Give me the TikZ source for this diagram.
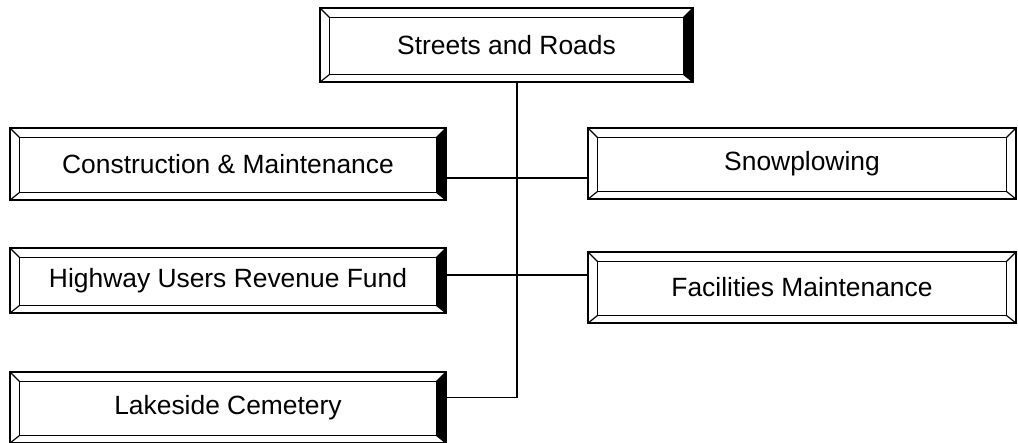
\documentclass[tikz,border=0pt]{standalone}
\usepackage{fontspec}
\setmainfont{Liberation Sans}
\usetikzlibrary{positioning}

% bevelled frame round a named node: #1 node, #2 colour of the right bevel
\newcommand{\bevel}[2]{%
  \fill[#2] ([xshift=-5pt,yshift=-5pt]#1.north east) -- (#1.north east)
    -- (#1.south east) -- ([xshift=-5pt,yshift=4pt]#1.south east) -- cycle;
  \draw[line width=0.8pt] ([xshift=5pt,yshift=-5pt]#1.north west) rectangle ([xshift=-5pt,yshift=4pt]#1.south east);
  \draw[line width=0.6pt] (#1.north west) -- ++(5pt,-5pt)
    (#1.south west) -- ++(5pt,4pt)
    (#1.north east) -- ++(-5pt,-5pt)
    (#1.south east) -- ++(-5pt,4pt);
  \draw[line width=1pt] (#1.north west) rectangle (#1.south east);
}

\begin{document}
\begin{tikzpicture}[
  x=0.5pt, y=-0.5pt,
  box/.style={minimum width=218pt, minimum height=35pt, inner sep=0pt, font=\fontsize{13.2}{15}\selectfont},
  link/.style={line width=0.9pt}
]
\useasboundingbox (0,0) rectangle (1018,443);

\node[box, minimum width=186.5pt, minimum height=37pt] (streets) at (506.5,45) {Streets and Roads};

\node[box, minimum height=36pt] (constr) at (228,164) {Construction \& Maintenance};
\node[box, minimum height=32.5pt] (huf) at (228,280.5) {Highway Users Revenue Fund};
\node[box, minimum height=35.5pt] (cemetery) at (228,407.5) {Lakeside Cemetery};

\node[box, minimum width=214pt, minimum height=35.5pt] (snow) at (802,163.5) {Snowplowing};
\node[box, minimum width=214pt, minimum height=35.5pt] (facil) at (802,287.5) {Facilities Maintenance};

\bevel{streets}{black}
\bevel{constr}{black}
\bevel{huf}{black}
\bevel{cemetery}{black}
\bevel{snow}{white}
\bevel{facil}{white}

\coordinate (trunk) at (517,0);
\draw[link] (streets.south -| trunk) |- ([yshift=5pt]cemetery.east);
\draw[link] ([yshift=-7pt]constr.east) -- ([yshift=-7pt]constr.east -| snow.west);
\draw[link] ([yshift=2.75pt]huf.east) -- ([yshift=2.75pt]huf.east -| facil.west);
\end{tikzpicture}
\end{document}
